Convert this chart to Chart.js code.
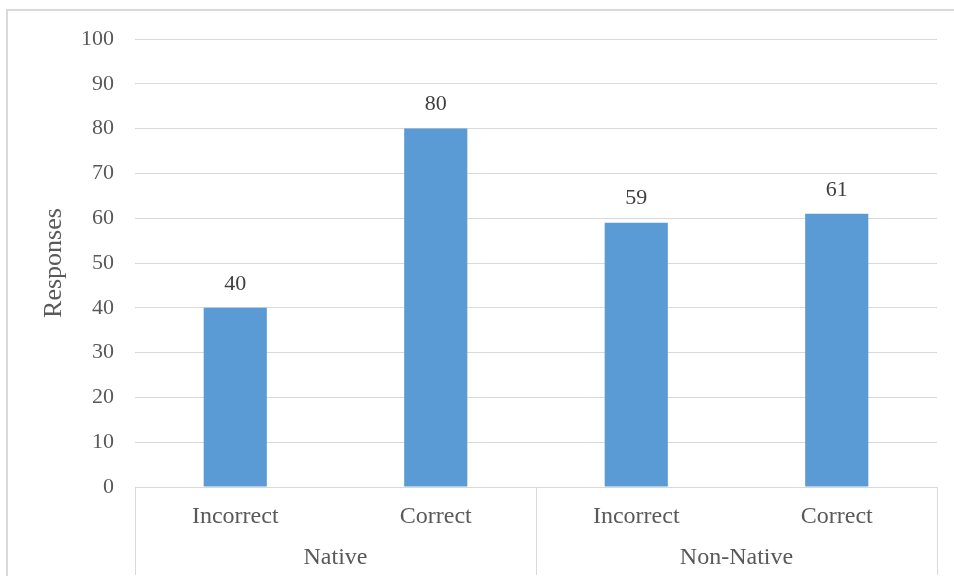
<!DOCTYPE html>
<html>
<head>
<meta charset="utf-8">
<script src="https://cdn.jsdelivr.net/npm/chart.js@4/dist/chart.umd.min.js"></script>
<style>
  html, body { margin: 0; padding: 0; background: #fff; }
  #wrap { width: 954px; height: 582px; position: relative; }
</style>
</head>
<body>
<div id="wrap"><canvas id="responsesChart"></canvas></div>
<script>
// chart data
const categories = ['Incorrect', 'Correct', 'Incorrect', 'Correct'];
const groups = ['Native', 'Non-Native'];
const groupSizes = [2, 2];
const responses = [40, 80, 59, 61];
const yTicks = [0, 10, 20, 30, 40, 50, 60, 70, 80, 90, 100];

const serif = '"Liberation Serif", "Times New Roman", serif';
const gridColor = '#d9d9d9';

// outer frame, value labels, group row
const extras = {
  id: 'extras',
  beforeDraw(chart) {
    const ctx = chart.ctx;
    ctx.save();
    ctx.strokeStyle = gridColor;
    ctx.lineWidth = 2;
    ctx.beginPath();
    ctx.moveTo(7, 576);
    ctx.lineTo(7, 10);
    ctx.lineTo(954, 10);
    ctx.stroke();
    ctx.restore();
  },
  afterDraw(chart) {
    const ctx = chart.ctx;
    const x = chart.scales.x;
    const area = chart.chartArea;
    const meta = chart.getDatasetMeta(0);

    ctx.save();
    ctx.font = '22px ' + serif;
    ctx.fillStyle = '#404040';
    ctx.textAlign = 'center';
    ctx.textBaseline = 'middle';
    meta.data.forEach((bar, i) => {
      ctx.fillText(String(responses[i]), bar.x, bar.y - 24);
    });

    // separators between groups
    const half = (x.getPixelForValue(1) - x.getPixelForValue(0)) / 2;
    const edges = [area.left];
    let idx = 0;
    groupSizes.forEach(n => {
      idx += n;
      edges.push(x.getPixelForValue(idx - 1) + half);
    });
    ctx.strokeStyle = gridColor;
    ctx.lineWidth = 1;
    ctx.beginPath();
    edges.forEach(e => {
      const px = Math.round(e) + 0.5;
      ctx.moveTo(px, area.bottom);
      ctx.lineTo(px, 575);
    });
    ctx.stroke();

    ctx.font = '24px ' + serif;
    ctx.fillStyle = '#595959';
    groups.forEach((g, i) => {
      ctx.fillText(g, (edges[i] + edges[i + 1]) / 2, 558);
    });
    ctx.restore();
  }
};

new Chart(document.getElementById('responsesChart'), {
  type: 'bar',
  data: {
    labels: categories,
    datasets: [{
      label: 'Responses',
      data: responses,
      backgroundColor: '#5b9bd5',
      borderWidth: 0,
      categoryPercentage: 1,
      barPercentage: 0.315
    }]
  },
  options: {
    responsive: true,
    maintainAspectRatio: false,
    animation: false,
    layout: { padding: { left: 0, top: 39, right: 17, bottom: 0 } },
    plugins: {
      legend: { display: false },
      tooltip: { enabled: false }
    },
    scales: {
      x: {
        grid: { display: false, drawTicks: false },
        border: { display: true, color: gridColor, width: 1 },
        ticks: {
          color: '#595959',
          font: { family: serif, size: 24 },
          padding: 15,
          maxRotation: 0,
          autoSkip: false
        },
        afterFit(scale) { scale.height = 95; }
      },
      y: {
        min: 0,
        max: 100,
        afterBuildTicks(scale) { scale.ticks = yTicks.map(v => ({ value: v })); },
        grid: { color: gridColor, drawTicks: false },
        border: { display: false },
        ticks: {
          color: '#595959',
          font: { family: serif, size: 22 },
          padding: 21
        },
        title: {
          display: true,
          text: 'Responses',
          color: '#595959',
          font: { family: serif, size: 26 },
          padding: { top: 39, bottom: 0 }
        },
        afterFit(scale) { scale.width = 135; }
      }
    }
  },
  plugins: [extras]
});
</script>
</body>
</html>
